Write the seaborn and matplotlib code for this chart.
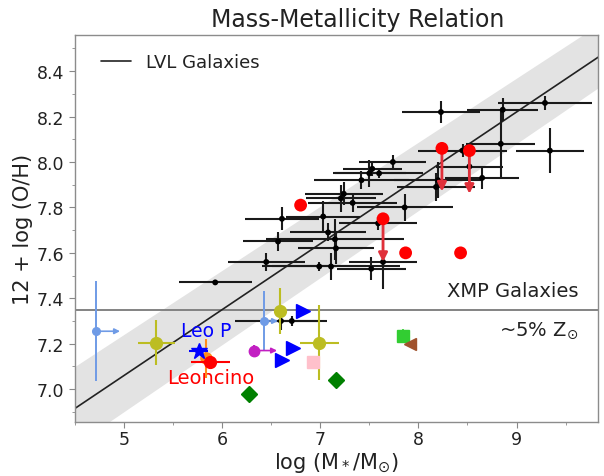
import numpy as np
import pandas as pd
import matplotlib
matplotlib.use("Agg")
import matplotlib.pyplot as plt
import seaborn as sns

sns.set_style("ticks")
plt.rcParams['font.family'] = ['DejaVu Sans']
plt.rcParams['mathtext.fontset'] = 'dejavusans'

# LVL galaxies: log stellar mass, 12+log(O/H) and symmetric uncertainties
lvl_mass = [5.93, 6.45, 6.57, 6.61, 7.03, 7.21, 7.24, 7.33, 7.08, 7.15, 7.16, 6.99,
            7.11, 7.52, 7.64, 7.42, 7.50, 7.53, 7.60, 7.74, 7.86, 8.20, 8.18, 8.23,
            8.65, 8.84, 8.86, 9.29, 9.34, 6.60, 6.71, 7.59, 8.52, 8.45]
lvl_oh = [7.47, 7.56, 7.65, 7.75, 7.76, 7.84, 7.86, 7.82, 7.69, 7.66, 7.62, 7.54,
          7.54, 7.53, 7.56, 7.92, 7.95, 7.97, 7.95, 8.00, 7.80, 7.92, 7.89, 8.22,
          7.93, 8.08, 8.23, 8.26, 8.05, 7.30, 7.30, 7.73, 7.98, 8.05]
lvl_mass_err = [0.37, 0.39, 0.36, 0.38, 0.38, 0.36, 0.40, 0.45, 0.39, 0.70, 0.39, 0.48,
                0.70, 0.35, 0.35, 0.48, 0.37, 0.30, 0.45, 0.34, 0.49, 0.45, 0.40, 0.40,
                0.38, 0.35, 0.36, 0.48, 0.35, 0.47, 0.28, 0.40, 0.34, 0.45]
lvl_oh_err = [0.01, 0.04, 0.04, 0.05, 0.07, 0.06, 0.05, 0.04, 0.04, 0.09, 0.07, 0.02,
              0.06, 0.05, 0.12, 0.04, 0.06, 0.03, 0.02, 0.03, 0.06, 0.08, 0.06, 0.05,
              0.05, 0.15, 0.05, 0.03, 0.10, 0.04, 0.02, 0.03, 0.05, 0.03]

# Mass-metallicity fit to the LVL sample and the edges of its scatter band
fit_intercept = 5.61
fit_slope = 0.29
band_top_intercept, band_top_slope = 5.831, 0.282
band_bottom_intercept, band_bottom_slope = 5.426, 0.295

# Red comparison galaxies (some are upper limits)
red_mass = [6.80, 7.64, 8.24, 8.52, 7.87, 8.43]
red_oh = [7.81, 7.75, 8.06, 8.05, 7.60, 7.60]
red_is_limit = [False, True, True, True, False, False]
limit_drop = 0.19

# XMP threshold (~5% solar)
xmp_oh = 7.35

# Extremely metal-poor systems
lightblue_mass = [4.72, 6.43]
lightblue_oh = [7.255, 7.30]
lightblue_oh_err = [0.22, 0.13]
lightblue_mass_reach = [0.24, 0.14]

olive_mass = [5.33, 6.59, 6.99]
olive_oh = [7.205, 7.345, 7.205]
olive_mass_err = [0.19, 0.0, 0.20]
olive_oh_err = [0.10, 0.10, 0.165]

triangle_mass = [6.82, 6.72, 6.61]
triangle_oh = [7.345, 7.18, 7.13]

leop_mass, leop_oh, leop_mass_err, leop_oh_err = 5.76, 7.17, 0.10, 0.02
orange_mass, orange_oh, orange_oh_err = 5.84, 7.135, 0.085
leoncino_mass, leoncino_oh, leoncino_mass_err = 5.88, 7.12, 0.20
magenta_mass, magenta_oh, magenta_oh_err, magenta_reach = 6.32, 7.17, 0.025, 0.24
pink_mass, pink_oh = 6.93, 7.12
diamond_mass = [6.27, 7.16]
diamond_oh = [6.98, 7.04]
lime_mass, lime_oh = 7.84, 7.235
brown_mass, brown_oh = 7.91, 7.20

fig = plt.figure(figsize=(6.04, 4.77), dpi=100)
ax = fig.add_axes([0.124, 0.113, 0.866, 0.812])

# fit line and scatter band
xgrid = np.linspace(4.5, 9.85, 50)
fit = pd.DataFrame({"mass": xgrid, "oh": fit_intercept + fit_slope * xgrid})
ax.fill_between(xgrid, band_bottom_intercept + band_bottom_slope * xgrid,
                band_top_intercept + band_top_slope * xgrid,
                color="#e3e3e3", lw=0, zorder=0)
sns.lineplot(data=fit, x="mass", y="oh", ax=ax, color="#222222", lw=1.2,
             label="LVL Galaxies", zorder=2)

ax.axhline(xmp_oh, color="#7a7a7a", lw=1.3, zorder=1)

# LVL sample
lvl = pd.DataFrame({"mass": lvl_mass, "oh": lvl_oh,
                    "xerr": lvl_mass_err, "yerr": lvl_oh_err})
ax.errorbar(lvl["mass"], lvl["oh"], xerr=lvl["xerr"], yerr=lvl["yerr"],
            fmt="none", ecolor="#1a1a1a", elinewidth=1.5, capsize=0, zorder=3)
sns.scatterplot(data=lvl, x="mass", y="oh", ax=ax, color="black", s=18,
                edgecolor="none", zorder=4, legend=False)

# red sample with upper-limit arrows
red = pd.DataFrame({"mass": red_mass, "oh": red_oh, "limit": red_is_limit})
for _, r in red[red["limit"]].iterrows():
    ax.annotate("", xy=(r["mass"], r["oh"] - limit_drop), xytext=(r["mass"], r["oh"]),
                arrowprops=dict(arrowstyle="-|>", color="#e0303a", lw=2,
                                mutation_scale=13, shrinkA=0, shrinkB=0), zorder=5)
sns.scatterplot(data=red, x="mass", y="oh", ax=ax, color="red", s=85,
                edgecolor="none", zorder=6, legend=False)

# XMP galaxies
lb = "#6f9be6"
ax.errorbar(lightblue_mass, lightblue_oh, yerr=lightblue_oh_err, fmt="o", color=lb,
            ms=5.5, elinewidth=1.4, capsize=0, zorder=5)
for m, o, d in zip(lightblue_mass, lightblue_oh, lightblue_mass_reach):
    ax.annotate("", xy=(m + d, o), xytext=(m, o),
                arrowprops=dict(arrowstyle="-|>", color=lb, lw=1.2,
                                mutation_scale=8, shrinkA=0, shrinkB=0), zorder=5)

ol = "#bcbd22"
ax.errorbar(olive_mass, olive_oh, xerr=olive_mass_err, yerr=olive_oh_err, fmt="o",
            color=ol, ms=8.5, elinewidth=1.5, capsize=0, zorder=5)

ax.plot(triangle_mass, triangle_oh, ">", color="blue", ms=10, ls="none", zorder=5)

ax.errorbar([orange_mass], [orange_oh], yerr=[orange_oh_err], fmt="o",
            color="#ff8c1a", ms=8, elinewidth=1.5, capsize=0, zorder=5)
ax.errorbar([leoncino_mass], [leoncino_oh], xerr=[leoncino_mass_err], fmt="o",
            color="red", ms=8.5, elinewidth=1.5, capsize=0, zorder=6)
ax.errorbar([leop_mass], [leop_oh], xerr=[leop_mass_err], yerr=[leop_oh_err], fmt="*",
            color="blue", ms=12, elinewidth=1.5, capsize=0, zorder=7)

mg = "#c21fc2"
ax.errorbar([magenta_mass], [magenta_oh], yerr=[magenta_oh_err], fmt="o", color=mg,
            ms=7.5, elinewidth=1.5, capsize=0, zorder=5)
ax.annotate("", xy=(magenta_mass + magenta_reach, magenta_oh),
            xytext=(magenta_mass, magenta_oh),
            arrowprops=dict(arrowstyle="-|>", color=mg, lw=1.2, mutation_scale=8,
                            shrinkA=0, shrinkB=0), zorder=5)

ax.plot([pink_mass], [pink_oh], "s", color="#ffc0cb", ms=8.5, zorder=5)
ax.plot(diamond_mass, diamond_oh, "D", color="green", ms=8.5, ls="none", zorder=5)
ax.errorbar([lime_mass], [lime_oh], yerr=[[0.0], [0.03]], fmt="s", color="limegreen",
            ms=8.5, elinewidth=1.2, capsize=0, zorder=5)
ax.plot([brown_mass], [brown_oh], "<", color="sienna", ms=8.5, zorder=6)

# annotations
ax.text(5.84, 7.26, "Leo P", color="blue", fontsize=13.5, ha="center", va="center")
ax.text(5.88, 7.05, "Leoncino", color="red", fontsize=14, ha="center", va="center")
ax.text(9.63, 7.436, "XMP Galaxies", fontsize=14, ha="right", va="center", color="#222222")
ax.text(9.63, 7.26, r"~5% Z$_{\odot}$", fontsize=14, ha="right", va="center", color="#222222")

ax.set_xlim(4.52, 9.83)
ax.set_ylim(6.855, 8.56)
ax.set_xticks([5, 6, 7, 8, 9])
ax.set_xticks(np.arange(4.5, 9.81, 0.5), minor=True)
ax.set_yticks([7.0, 7.2, 7.4, 7.6, 7.8, 8.0, 8.2, 8.4])
ax.set_yticks(np.arange(6.9, 8.56, 0.1), minor=True)
ax.tick_params(axis="both", which="major", labelsize=12.5, length=4, color="#888888",
               labelcolor="#222222")
ax.tick_params(axis="x", which="major", pad=2)
ax.tick_params(axis="both", which="minor", length=2.5, color="#888888")
for sp in ax.spines.values():
    sp.set_color("#8c8c8c")
    sp.set_linewidth(1.0)

ax.set_xlabel(r"log (M$_*$/M$_{\odot}$)", fontsize=15, color="#222222", labelpad=1)
ax.set_ylabel("12 + log (O/H)", fontsize=15, color="#222222", labelpad=3)
ax.set_title("Mass-Metallicity Relation", fontsize=17, color="#222222", pad=6, x=0.541)

leg = ax.legend(loc="upper left", bbox_to_anchor=(0.025, 0.985), frameon=False,
                fontsize=13, handlelength=1.7, borderaxespad=0.3)
for t in leg.get_texts():
    t.set_color("#222222")

fig.savefig("out.png", dpi=100)
